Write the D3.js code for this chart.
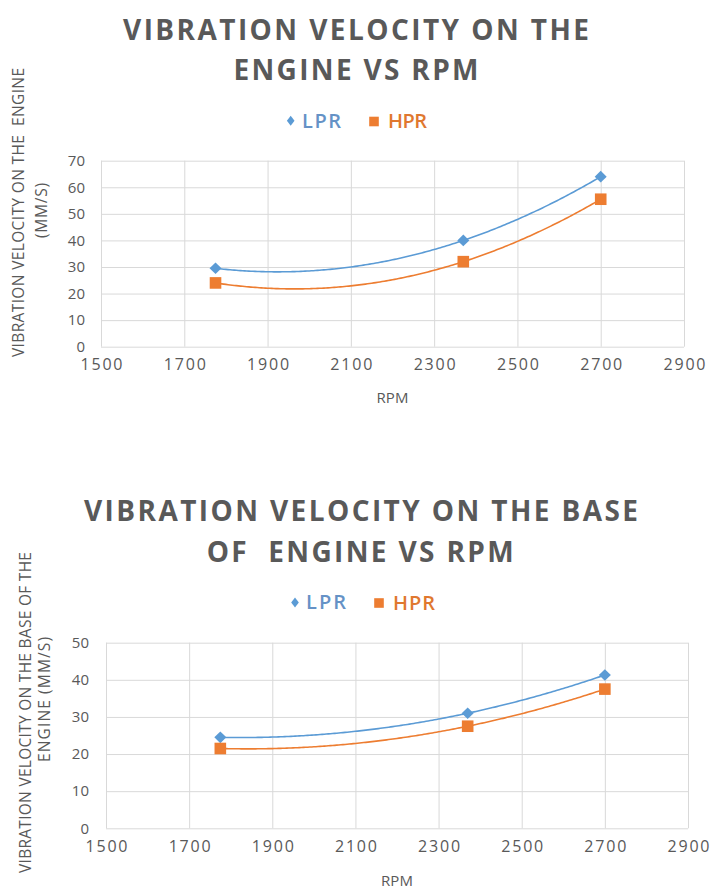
<!DOCTYPE html>
<html>
<head>
<meta charset="utf-8">
<script src="https://cdn.jsdelivr.net/npm/d3@7"></script>
<style>
  html, body { margin: 0; padding: 0; background: #ffffff; }
  svg { display: block; }
  text { font-family: "Open Sans", "Liberation Sans", sans-serif; }
</style>
</head>
<body>
<svg id="chart" width="719" height="895"></svg>
<script>
// ---------------- data ----------------
const rpm = [1775, 2370, 2700];
const engineLPR = [29.5, 40, 64];
const engineHPR = [24, 32, 55.5];
const baseLPR = [24.5, 31, 41.3];
const baseHPR = [21.5, 27.5, 37.5];
const xTickValues = [1500, 1700, 1900, 2100, 2300, 2500, 2700, 2900];
const engineYTicks = [0, 10, 20, 30, 40, 50, 60, 70];
const baseYTicks = [0, 10, 20, 30, 40, 50];
const seriesNames = ["LPR", "HPR"];
const titleEngine = ["VIBRATION VELOCITY ON THE", "ENGINE VS RPM"];
const titleBase = ["VIBRATION VELOCITY ON THE BASE", "OF  ENGINE VS RPM"];
const yTitleEngine = ["VIBRATION VELOCITY ON THE  ENGINE", "(MM/S)"];
const yTitleBase = ["VIBRATION VELOCITY ON THE BASE OF THE", "ENGINE (MM/S)"];
const xTitle = "RPM";

// ---------------- style ----------------
const COL_LPR = "#5B9BD5";
const COL_HPR = "#ED7D31";
const TXT_LPR = "#6592c6";
const TXT_HPR = "#E0782F";
const GRID = "#d9d9d9";
const TXT = "#595959";

// least-squares polynomial (order 2) trendline, like a spreadsheet trendline
function polyFit2(xs, ys) {
  const n = xs.length;
  const m = d3.mean(xs);
  const s = 1000;
  const u = xs.map(x => (x - m) / s);
  let S = [0, 0, 0, 0, 0], T = [0, 0, 0];
  for (let i = 0; i < n; i++) {
    for (let k = 0; k < 5; k++) S[k] += Math.pow(u[i], k);
    for (let k = 0; k < 3; k++) T[k] += ys[i] * Math.pow(u[i], k);
  }
  const A = [[S[0], S[1], S[2], T[0]], [S[1], S[2], S[3], T[1]], [S[2], S[3], S[4], T[2]]];
  for (let c = 0; c < 3; c++) {
    let p = c;
    for (let r = c + 1; r < 3; r++) if (Math.abs(A[r][c]) > Math.abs(A[p][c])) p = r;
    [A[c], A[p]] = [A[p], A[c]];
    for (let r = 0; r < 3; r++) {
      if (r === c) continue;
      const f = A[r][c] / A[c][c];
      for (let k = c; k < 4; k++) A[r][k] -= f * A[c][k];
    }
  }
  const b = A.map((row, i) => row[3] / row[i]);
  return x => { const t = (x - m) / s; return b[0] + b[1] * t + b[2] * t * t; };
}

function fitWidth(sel, target) {
  const n = sel.text().length;
  const w = sel.node().getComputedTextLength();
  sel.attr("letter-spacing", ((target - w) / (n - 1)).toFixed(3));
}

const svg = d3.select("#chart");

function drawChart(cfg) {
  const g = svg.append("g");
  const x = d3.scaleLinear().domain([xTickValues[0], xTickValues[xTickValues.length - 1]]).range([cfg.left, cfg.right]);
  const y = d3.scaleLinear().domain([0, d3.max(cfg.yTicks)]).range([cfg.bottom, cfg.top]);

  // grid (vertical)
  const gx = g.append("g").attr("transform", `translate(0,${cfg.bottom})`)
    .call(d3.axisBottom(x).tickValues(xTickValues).tickSize(-(cfg.bottom - cfg.top)).tickFormat(""));
  gx.select(".domain").remove();
  gx.selectAll("line").attr("stroke", GRID).attr("stroke-width", 1);

  // grid (horizontal)
  const gy = g.append("g").attr("transform", `translate(${cfg.left},0)`)
    .call(d3.axisLeft(y).tickValues(cfg.yTicks).tickSize(-(cfg.right - cfg.left)).tickFormat(""));
  gy.select(".domain").remove();
  gy.selectAll("line").attr("stroke", GRID).attr("stroke-width", 1);

  // x tick labels
  const ax = g.append("g").attr("transform", `translate(0,${cfg.bottom})`)
    .call(d3.axisBottom(x).tickValues(xTickValues).tickSize(0).tickPadding(cfg.xLabelPad).tickFormat(d3.format("d")));
  ax.select(".domain").remove();
  ax.selectAll("text").attr("fill", TXT).attr("font-size", 16).attr("letter-spacing", 1.8)
    .attr("font-family", '"Open Sans", sans-serif').attr("dx", 0.9);

  // y tick labels
  const ay = g.append("g").attr("transform", `translate(${cfg.left},0)`)
    .call(d3.axisLeft(y).tickValues(cfg.yTicks).tickSize(0).tickPadding(cfg.yLabelPad).tickFormat(d3.format("d")));
  ay.select(".domain").remove();
  ay.selectAll("text").attr("fill", TXT).attr("font-size", 15).attr("font-family", '"Open Sans", sans-serif');

  // trendlines
  const series = [
    { name: seriesNames[0], vals: cfg.lpr, color: COL_LPR },
    { name: seriesNames[1], vals: cfg.hpr, color: COL_HPR }
  ];
  const xs = d3.range(d3.min(rpm), d3.max(rpm) + 0.1, 5);
  series.forEach(s => {
    const f = polyFit2(rpm, s.vals);
    g.append("path")
      .attr("d", d3.line().x(d => x(d)).y(d => y(f(d)))(xs))
      .attr("fill", "none").attr("stroke", s.color).attr("stroke-width", 1.6);
  });

  // markers
  g.selectAll(".lpr").data(rpm.map((r, i) => [r, cfg.lpr[i]])).join("path")
    .attr("transform", d => `translate(${x(d[0])},${y(d[1])})`)
    .attr("d", "M0,-5.8L6,0L0,5.8L-6,0Z").attr("fill", COL_LPR);
  g.selectAll(".hpr").data(rpm.map((r, i) => [r, cfg.hpr[i]])).join("rect")
    .attr("x", d => x(d[0]) - 5.8).attr("y", d => y(d[1]) - 5.8)
    .attr("width", 11.6).attr("height", 11.6).attr("fill", COL_HPR);

  // title
  cfg.title.forEach((t, i) => {
    const tt = g.append("text").attr("x", cfg.titleX[i]).attr("y", cfg.titleY[i])
      .attr("font-size", 28).attr("font-weight", "bold").attr("fill", TXT)
      .style("white-space", "pre").text(t);
    fitWidth(tt, cfg.titleW[i]);
  });

  // legend
  g.append("path").attr("transform", `translate(${cfg.leg.d[0]},${cfg.leg.d[1]})`)
    .attr("d", "M0,-5L3.8,0L0,5L-3.8,0Z").attr("fill", COL_LPR);
  g.append("rect").attr("x", cfg.leg.s[0] - 4.8).attr("y", cfg.leg.s[1] - 4.8)
    .attr("width", 9.6).attr("height", 9.6).attr("fill", COL_HPR);
  const l1 = g.append("text").attr("x", cfg.leg.t1[0]).attr("y", cfg.leg.t1[1])
    .attr("font-size", 20).attr("font-weight", 600).attr("fill", TXT_LPR).text(seriesNames[0]);
  fitWidth(l1, cfg.leg.w1);
  const l2 = g.append("text").attr("x", cfg.leg.t2[0]).attr("y", cfg.leg.t2[1])
    .attr("font-size", 20).attr("font-weight", 600).attr("fill", TXT_HPR).text(seriesNames[1]);
  fitWidth(l2, cfg.leg.w2);

  // y axis title (rotated)
  cfg.yTitle.forEach((t, i) => {
    const tt = g.append("text")
      .attr("transform", `translate(${cfg.yTitleX[i]},${cfg.yTitleStart[i]}) rotate(-90)`)
      .attr("dy", "0.35em").attr("font-size", 15.5).attr("fill", TXT)
      .style("white-space", "pre").text(t);
    fitWidth(tt, cfg.yTitleLen[i]);
  });

  // x axis title
  g.append("text").attr("x", (cfg.left + cfg.right) / 2).attr("y", cfg.xTitleY)
    .attr("text-anchor", "middle").attr("font-size", 15).attr("fill", TXT).text(xTitle);
}

drawChart({
  left: 101, right: 684, top: 160.7, bottom: 346.7,
  yTicks: engineYTicks, lpr: engineLPR, hpr: engineHPR,
  xLabelPad: 12, yLabelPad: 16,
  title: titleEngine, titleX: [123, 233.5], titleY: [39.5, 80], titleW: [466, 245],
  leg: { d: [290.7, 120.7], s: [374, 121.5], t1: [302, 127.5], t2: [388, 127.5], w1: 39, w2: 39 },
  yTitle: yTitleEngine, yTitleX: [18.3, 42], yTitleStart: [357, 238], yTitleLen: [289, 55],
  xTitleY: 403
});

drawChart({
  left: 106, right: 688, top: 642.7, bottom: 828.3,
  yTicks: baseYTicks, lpr: baseLPR, hpr: baseHPR,
  xLabelPad: 12, yLabelPad: 17,
  title: titleBase, titleX: [84, 206.7], titleY: [521, 562], titleW: [554, 307],
  leg: { d: [295, 602.5], s: [379, 603], t1: [306, 609], t2: [393, 609.5], w1: 40, w2: 42 },
  yTitle: yTitleBase, yTitleX: [26, 45], yTitleStart: [873, 762], yTitleLen: [321, 125],
  xTitleY: 886
});
</script>
</body>
</html>
